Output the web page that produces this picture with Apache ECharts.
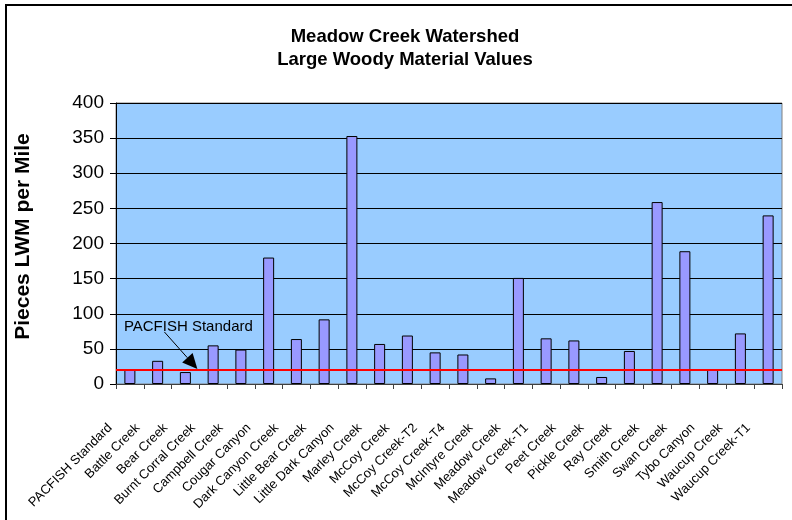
<!DOCTYPE html>
<html>
<head>
<meta charset="utf-8">
<script src="https://cdn.jsdelivr.net/npm/echarts@6/dist/echarts.min.js"></script>
<style>
  html, body { margin: 0; padding: 0; background: #ffffff; }
  #chart { width: 792px; height: 520px; }
</style>
</head>
<body>
<div id="chart"></div>
<script>
// Stream reaches in the Meadow Creek watershed
const categories = [
  'PACFISH Standard', 'Battle Creek', 'Bear Creek', 'Burnt Corral Creek',
  'Campbell Creek', 'Cougar Canyon', 'Dark Canyon Creek', 'Little Bear Creek',
  'Little Dark Canyon', 'Marley Creek', 'McCoy Creek', 'McCoy Creek-T2',
  'McCoy Creek-T4', 'McIntyre Creek', 'Meadow Creek', 'Meadow Creek-T1',
  'Peet Creek', 'Pickle Creek', 'Ray Creek', 'Smith Creek', 'Swan Creek',
  'Tybo Canyon', 'Waucup Creek', 'Waucup Creek-T1'
];

// Pieces of large woody material per mile
const lwmPerMile = [
  20, 33, 17, 55, 49, 180, 64, 92, 353, 57, 69, 45,
  42, 8, 151, 65, 62, 10, 47, 259, 189, 21, 72, 240
];

// PACFISH minimum standard (pieces per mile)
const pacfishStandard = 20;

// Value axis ticks
const yMin = 0;
const yMax = 400;
const yStep = 50;

const FONT = 'Arial, "Liberation Sans", sans-serif';

const chart = echarts.init(document.getElementById('chart'), null, { renderer: 'canvas' });

const option = {
  animation: false,
  backgroundColor: '#ffffff',
  title: {
    text: 'Meadow Creek Watershed\nLarge Woody Material Values',
    left: 400,
    top: 20,
    textAlign: 'center',
    textStyle: {
      fontFamily: FONT,
      fontSize: 18.5,
      fontWeight: 'bold',
      color: '#000000',
      lineHeight: 23
    }
  },
  grid: {
    left: 116,
    right: 10,
    top: 103,
    bottom: 136,
    show: true,
    backgroundColor: '#99CCFF',
    borderColor: '#808080',
    borderWidth: 1,
    containLabel: false
  },
  xAxis: {
    type: 'category',
    data: categories,
    boundaryGap: true,
    axisLine: { show: true, lineStyle: { color: '#404040', width: 1 } },
    axisTick: { show: true, length: 5, alignWithLabel: false, lineStyle: { color: '#404040' } },
    axisLabel: {
      interval: 0,
      rotate: 45,
      margin: 22,
      padding: [0, 28, 0, 0],
      fontFamily: FONT,
      fontSize: 13,
      color: '#000000'
    },
    splitLine: { show: false }
  },
  yAxis: {
    type: 'value',
    min: yMin,
    max: yMax,
    interval: yStep,
    name: 'Pieces LWM per Mile',
    nameLocation: 'middle',
    nameRotate: 90,
    nameGap: 82,
    nameTextStyle: {
      fontFamily: FONT,
      fontSize: 21,
      fontWeight: 'bold',
      color: '#000000',
      padding: [0, 0, 0, 14]
    },
    axisLine: { show: true, lineStyle: { color: '#000000', width: 1 } },
    axisTick: { show: true, length: 6, inside: false, lineStyle: { color: '#000000' } },
    axisLabel: {
      margin: 12,
      fontFamily: FONT,
      fontSize: 19,
      color: '#000000'
    },
    splitLine: { show: true, lineStyle: { color: '#000000', width: 1 } }
  },
  series: [{
    type: 'bar',
    data: lwmPerMile,
    barWidth: 11,
    itemStyle: {
      color: '#9999FF',
      borderColor: '#000000',
      borderWidth: 1
    },
    markLine: {
      silent: true,
      symbol: ['none', 'none'],
      label: { show: false },
      lineStyle: { color: '#FF0000', width: 2, type: 'solid' },
      data: [{ yAxis: pacfishStandard }]
    }
  }]
};

chart.setOption(option);

// Outer chart-area frame plus the callout pointing at the standard line
function drawCallout() {
  const tip = chart.convertToPixel({ xAxisIndex: 0, yAxisIndex: 0 }, [2, pacfishStandard]);
  const tipX = tip[0] + 12;
  const tipY = tip[1] - 1;
  const startX = tipX - 33;
  const startY = tipY - 37;
  const ang = Math.atan2(tipY - startY, tipX - startX);
  const headLen = 15, headHalf = 7;
  const bx = tipX - headLen * Math.cos(ang);
  const by = tipY - headLen * Math.sin(ang);
  const px = -Math.sin(ang) * headHalf;
  const py = Math.cos(ang) * headHalf;
  const labelPos = chart.convertToPixel({ xAxisIndex: 0, yAxisIndex: 0 }, [0, 80]);

  chart.setOption({
    graphic: [
      {
        type: 'rect',
        silent: true,
        shape: { x: 6, y: 5, width: 820, height: 560 },
        style: { fill: 'none', stroke: '#000000', lineWidth: 2 },
        z: 100
      },
      {
        type: 'text',
        silent: true,
        x: labelPos[0] - 6,
        y: labelPos[1] - 1,
        style: {
          text: 'PACFISH Standard',
          fill: '#000000',
          font: '15px ' + FONT,
          textVerticalAlign: 'middle'
        },
        z: 100
      },
      {
        type: 'line',
        silent: true,
        shape: { x1: startX, y1: startY, x2: bx, y2: by },
        style: { stroke: '#000000', lineWidth: 1 },
        z: 100
      },
      {
        type: 'polygon',
        silent: true,
        shape: { points: [[tipX, tipY], [bx + px, by + py], [bx - px, by - py]] },
        style: { fill: '#000000' },
        z: 100
      }
    ]
  });
}
drawCallout();
</script>
</body>
</html>
